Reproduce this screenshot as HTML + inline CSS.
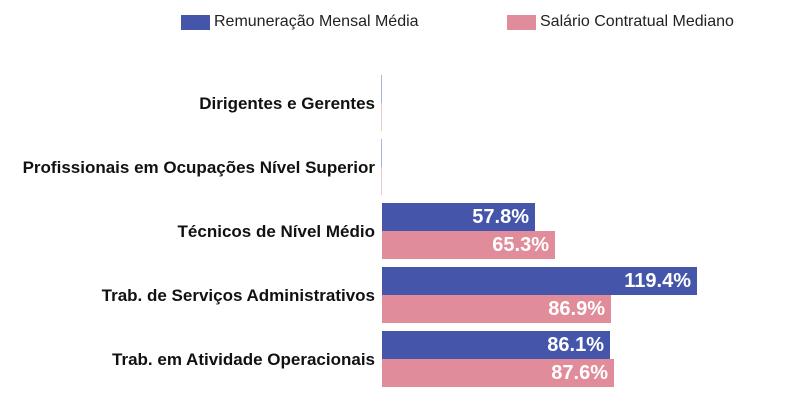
<!DOCTYPE html>
<html><head><meta charset="utf-8"><style>
body{margin:0;width:800px;height:401px;background:#fff;font-family:"Liberation Sans",sans-serif;position:relative;overflow:hidden}
.a{position:absolute}
.cat{position:absolute;right:425px;font-weight:bold;font-size:17px;color:#111;white-space:nowrap}
.b{position:absolute;left:382px;height:28px;color:#fff;font-weight:bold;font-size:20px;text-align:right;box-sizing:border-box;padding-right:6px;line-height:29px}
.bl{background:#4455aa}.pk{background:#e08c9a}
</style></head><body>
<div class="a" style="left:181px;top:15px;width:29px;height:15px;background:#4455aa"></div>
<div class="a" style="left:214px;top:13px;font-size:16px;color:#222">Remuneração Mensal Média</div>
<div class="a" style="left:507px;top:15px;width:29px;height:15px;background:#e08c9a"></div>
<div class="a" style="left:540px;top:13px;font-size:16px;color:#222">Salário Contratual Mediano</div>

<div class="a" style="left:381px;top:75px;width:1px;height:28px;background:#aab0dd"></div>
<div class="a" style="left:381px;top:103px;width:1px;height:28px;background:#f2c8cf"></div>
<div class="a" style="left:381px;top:139px;width:1px;height:28px;background:#aab0dd"></div>
<div class="a" style="left:381px;top:167px;width:1px;height:28px;background:#f2c8cf"></div>

<div class="cat" style="top:94px">Dirigentes e Gerentes</div>
<div class="cat" style="top:158px">Profissionais em Ocupações Nível Superior</div>
<div class="cat" style="top:222px">Técnicos de Nível Médio</div>
<div class="cat" style="top:286px">Trab. de Serviços Administrativos</div>
<div class="cat" style="top:350px">Trab. em Atividade Operacionais</div>

<div class="b bl" style="top:203px;width:153px">57.8%</div>
<div class="b pk" style="top:231px;width:173px">65.3%</div>
<div class="b bl" style="top:267px;width:315px">119.4%</div>
<div class="b pk" style="top:295px;width:229px">86.9%</div>
<div class="b bl" style="top:331px;width:228px">86.1%</div>
<div class="b pk" style="top:359px;width:232px">87.6%</div>
</body></html>
